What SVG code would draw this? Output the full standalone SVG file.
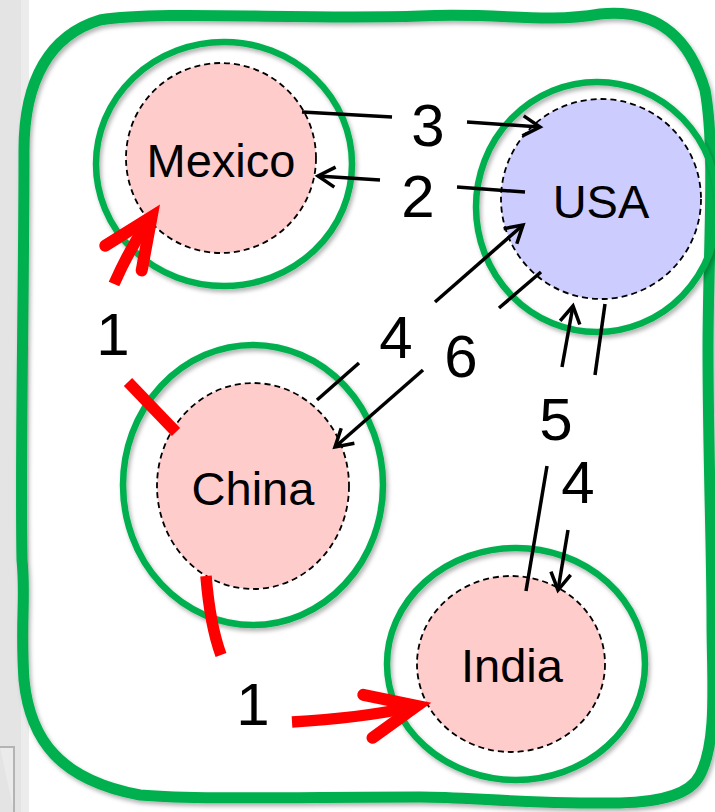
<svg xmlns="http://www.w3.org/2000/svg" width="715" height="812" viewBox="0 0 715 812">
<defs>
<style>
.ring{fill:none;stroke:#00b050;stroke-width:6.5;filter:url(#sh)}
.disc{stroke:#000;stroke-width:1.8;stroke-dasharray:6 4}
.pink{fill:#ffcccc}
.blue{fill:#ccccff}
.name{font-family:"Liberation Sans",Arial,sans-serif;font-size:47px;fill:#000;text-anchor:middle}
.num{font-family:"Liberation Sans",Arial,sans-serif;font-size:60px;fill:#000;text-anchor:middle}
.blk{fill:none;stroke:#000;stroke-width:3.5}
.red{fill:none;stroke:#ff0000;stroke-width:11.5}
</style>
<filter id="sh" x="-10%" y="-10%" width="125%" height="125%">
<feDropShadow dx="2" dy="3" stdDeviation="2" flood-color="#000" flood-opacity="0.3"/>
</filter>
<marker id="ah" markerUnits="userSpaceOnUse" viewBox="-2 -2 24 24" markerWidth="24" markerHeight="24" refX="18" refY="10" orient="auto" overflow="visible">
<path d="M 1,0 L 18,10 L 1,20" fill="none" stroke="#000" stroke-width="3.5"/>
</marker>
<marker id="rh" markerUnits="userSpaceOnUse" viewBox="-80 -40 90 80" markerWidth="90" markerHeight="80" refX="-22" refY="0" orient="auto" overflow="visible">
<path d="M -62,-22 L -12,0 L -62,22" fill="none" stroke="#ff0000" stroke-width="12" stroke-linecap="round" stroke-linejoin="miter"/>
</marker>
</defs>
<rect x="0" y="0" width="715" height="812" fill="#ffffff"/>
<rect x="0" y="0" width="21" height="812" fill="#e4e4e4"/>
<rect x="21" y="0" width="8" height="812" fill="#ececec"/>
<path d="M 0,747 L 14,747 L 14,812" fill="#ebebeb" stroke="#b4b4b4" stroke-width="2"/>
<g id="frame">
<path d="M 100,20 C 160,10 300,20 420,16 C 500,12 540,24 600,14 C 660,8 690,40 705,90 C 716,150 708,250 708,350 C 708,450 712,550 712,620 C 712,680 718,740 700,775 C 690,795 660,802 620,803 C 520,804 470,797 420,797 C 300,797 200,800 140,795 C 60,780 30,740 24,680 C 20,620 26,600 22,560 C 20,450 24,300 24,150 C 24,80 50,35 100,20 Z" fill="none" stroke="#00b050" stroke-width="11" filter="url(#sh)"/>
</g>
<g id="mexico">
<ellipse class="ring" cx="224" cy="164" rx="128" ry="122"/>
<circle class="disc pink" cx="221" cy="158" r="95"/>
<text class="name" x="221" y="177">Mexico</text>
</g>
<g id="usa">
<ellipse class="ring" cx="597" cy="207" rx="121" ry="125"/>
<circle class="disc blue" cx="601" cy="199" r="100"/>
<text class="name" x="601" y="218">USA</text>
</g>
<g id="china">
<ellipse class="ring" cx="253" cy="485" rx="130" ry="140"/>
<ellipse class="disc pink" cx="253" cy="486" rx="96" ry="103"/>
<text class="name" x="253" y="505">China</text>
</g>
<g id="india">
<ellipse class="ring" cx="516" cy="664" rx="129" ry="116"/>
<ellipse class="disc pink" cx="511" cy="664" rx="94" ry="88"/>
<text class="name" x="512" y="682">India</text>
</g>
<g id="connectors-red">
<path class="red" d="M 114,284 Q 129,250 146,225" marker-end="url(#rh)"/>
<path class="red" d="M 128,382 L 176,432"/>
<path class="red" d="M 206,576 Q 210,625 221,655"/>
<path class="red" d="M 292,722 Q 360,718 407,708" marker-end="url(#rh)"/>
<text class="num" x="113" y="355">1</text>
<text class="num" x="253" y="725">1</text>
</g>
<g id="connectors-black">
<path class="blk" d="M 302,112 L 392,117"/>
<path class="blk" d="M 467,122 L 540,127" marker-end="url(#ah)"/>
<text class="num" x="428" y="146">3</text>
<path class="blk" d="M 525,192 L 457,187"/>
<path class="blk" d="M 380,180 L 318,176" marker-end="url(#ah)"/>
<text class="num" x="418" y="217">2</text>
<path class="blk" d="M 317,400 L 359,363"/>
<path class="blk" d="M 435,302 L 523,225" marker-end="url(#ah)"/>
<text class="num" x="396" y="358">4</text>
<path class="blk" d="M 541,272 L 499,308"/>
<path class="blk" d="M 423,370 L 335,447" marker-end="url(#ah)"/>
<text class="num" x="461" y="377">6</text>
<path class="blk" d="M 526,591 L 547,466"/>
<path class="blk" d="M 562,367 L 573,306" marker-end="url(#ah)"/>
<text class="num" x="556" y="440">5</text>
<path class="blk" d="M 605,304 L 595,375"/>
<path class="blk" d="M 568,530 L 558,590" marker-end="url(#ah)"/>
<text class="num" x="578" y="503">4</text>
</g>
</svg>
